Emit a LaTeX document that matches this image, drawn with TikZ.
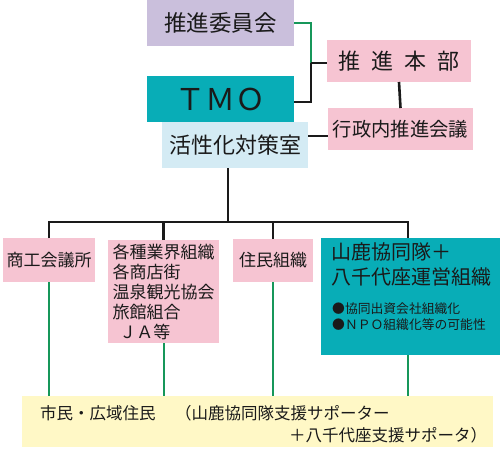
\documentclass[tikz,border=0pt]{standalone}
\usepackage{fontspec}
\setmainfont{Noto Sans CJK JP}
\definecolor{lav}{HTML}{CABFDC}
\definecolor{pinkb}{HTML}{F6C4D2}
\definecolor{tealb}{HTML}{08ADB7}
\definecolor{lblue}{HTML}{D4EBF4}
\definecolor{ylw}{HTML}{FFF8C6}
\definecolor{grn}{HTML}{16975A}
\definecolor{ink}{HTML}{1A1A1A}
\tikzset{
  box/.style={rectangle, inner sep=0pt, outer sep=0pt, text=ink, align=left},
  blk/.style={draw=ink, line width=2.6pt},
  gln/.style={draw=grn, line width=2pt},
  txt/.style={inner sep=0pt, text=ink, align=left, anchor=west}
}
\newcommand{\fs}[1]{\fontsize{#1}{#1}\selectfont}
\begin{document}
\begin{tikzpicture}[x=1pt,y=-1pt]
\useasboundingbox (0,0) rectangle (500,450);
% boxes
\node[box, fill=lav, minimum width=147, minimum height=46] (iinkai) at (220.5,23) {\fs{22.5}推進委員会};
\node[box, fill=pinkb, minimum width=144, minimum height=42] (honbu) at (399,61) {\fs{22}推\hspace{0.5em}進\hspace{0.5em}本\hspace{0.5em}部};
\node[box, fill=tealb, minimum width=147, minimum height=46] (tmo) at (220.5,99) {\fs{30}ＴＭＯ};
\node[box, fill=pinkb, minimum width=145, minimum height=42] (gyosei) at (400.5,129) {\fs{19.3}行政内推進会議};
\node[box, fill=lblue, minimum width=146, minimum height=46] (kasseika) at (235,145) {\fs{22}活性化対策室};
\node[box, fill=pinkb, minimum width=92, minimum height=44] (shoko) at (49,260) {\fs{17}商工会議所};
\node[box, fill=pinkb, minimum width=111, minimum height=103, font=\fontsize{17}{20}\selectfont] (gyokai) at (163.5,291.5)
  {各種業界組織\\各商店街\\温泉観光協会\\旅館組合\\\hspace{0.4em}ＪＡ等};
\node[box, fill=pinkb, minimum width=80, minimum height=43] (jumin) at (273,260.5) {\fs{17}住民組織};
\node[box, fill=tealb, minimum width=179, minimum height=117] (yamaga) at (410.5,296.5) {};
\node[box, fill=ylw, minimum width=471, minimum height=51] (bottom) at (257.5,421.5) {};
% texts inside teal and bottom boxes
\node[txt] (y1) at (331,252) {\fs{20}山鹿協同隊＋};
\node[txt] (y2) at (331,277) {\fs{20}八千代座運営組織};
\node[txt] (y3) at (332,309) {\fs{12.8}●協同出資会社組織化};
\node[txt] (y4) at (332,325) {\fs{12.8}●ＮＰＯ組織化等の可能性};
\node[txt] (b1) at (40,413) {\fs{16.5}市民・広域住民};
\node[txt] (b2) at (175,413) {\fs{16.5}（山鹿協同隊支援サポーター};
\node[txt] (b3) at (289,435) {\fs{16.5}＋八千代座支援サポータ）};
% top connectors
\coordinate (j) at (311,63);
\draw[gln] (iinkai.east) -| (j);
\draw[blk] (j) -- (j -| honbu.west);
\draw[blk] ([yshift=-3pt]tmo.east) -| (j);
\draw[blk] (honbu.south) -- (gyosei.north);
\draw[blk] (kasseika.east |- 0,136) -- (gyosei.west |- 0,136);
% bus
\coordinate (bus) at (228,222);
\draw[blk] ([xshift=-7pt]kasseika.south) -- (bus);
\draw[blk] (shoko.north) |- (bus) -| ([xshift=-2.5pt]yamaga.north);
\draw[blk] (gyokai.north) -- (gyokai.north |- bus);
\draw[blk] (jumin.north) -- (jumin.north |- bus);
% green drops
\draw[gln] (shoko.south) -- (shoko.south |- bottom.north);
\draw[gln] (gyokai.south) -- (gyokai.south |- bottom.north);
\draw[gln] (jumin.south) -- (jumin.south |- bottom.north);
\draw[gln] ([xshift=-2.5pt]yamaga.south) -- ([xshift=-2.5pt]yamaga.south |- bottom.north);
\end{tikzpicture}
\end{document}
